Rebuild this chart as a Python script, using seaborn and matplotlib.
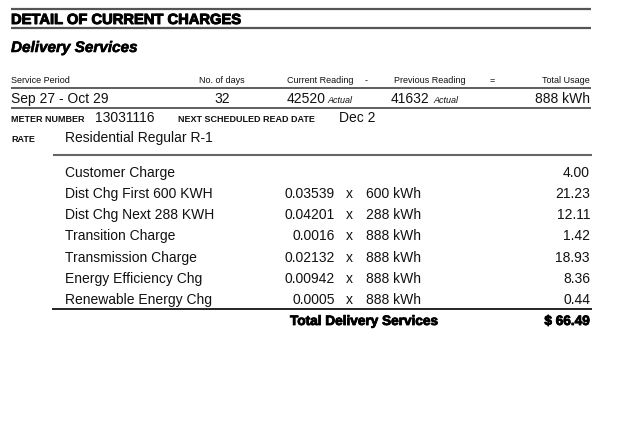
import seaborn as sns
import matplotlib.pyplot as plt
import matplotlib.patheffects as pe

# header of the bill
title = 'DETAIL OF CURRENT CHARGES'
section = 'Delivery Services'
period_cols = ['Service Period', 'No. of days', 'Current Reading', '-',
               'Previous Reading', '=', 'Total Usage']
service_period = 'Sep 27 - Oct 29'
n_days = 32
current_reading = 42520
previous_reading = 41632
total_usage = 888
meter_number = '13031116'
next_read_date = 'Dec 2'
rate_name = 'Residential Regular R-1'

# charge lines
charge_labels = ['Customer Charge', 'Dist Chg First 600 KWH', 'Dist Chg Next 288 KWH',
                 'Transition Charge', 'Transmission Charge', 'Energy Efficiency Chg',
                 'Renewable Energy Chg']
charge_rates = [None, 0.03539, 0.04201, 0.0016, 0.02132, 0.00942, 0.0005]
charge_kwh = [None, 600, 288, 888, 888, 888, 888]
charge_amounts = [4.00, 21.23, 12.11, 1.42, 18.93, 8.36, 0.44]
total_label = 'Total Delivery Services'
total_amount = 66.49

sns.set_theme(style='white')
plt.rcParams['font.family'] = ['Liberation Sans', 'DejaVu Sans']

fig = plt.figure(figsize=(6.17, 4.21), dpi=100)
ax = fig.add_axes([0, 0, 1, 1])
ax.set_xlim(0, 617)
ax.set_ylim(421, 0)
ax.axis('off')

INK = '#111111'
RIGHT = 590


def put(x, y, s, size=10, ha='left', heavy=0, **kw):
    kw.setdefault('color', INK)
    if heavy:
        # thicken bold text a bit, the original uses a black weight
        kw['fontweight'] = 'bold'
        kw['path_effects'] = [pe.withStroke(linewidth=heavy, foreground=kw['color'])]
    return ax.text(x, y, s, fontsize=size, ha=ha, va='baseline', **kw)


# title bar
ax.hlines([8.5, 28], 11, 591, color='#555555', lw=1.6)
put(11, 24, title, size=10.6, heavy=0.7, color='black')
put(11, 52, section, size=11, heavy=0.4, fontstyle='italic', color='black')

# service period table
col_x = [11, 222, 287, 366, 394, 492, RIGHT]
col_ha = ['left', 'center', 'left', 'center', 'left', 'center', 'right']
for name, x, ha in zip(period_cols, col_x, col_ha):
    put(x, 83, name, size=6.5, ha=ha)
ax.hlines(87.5, 11, 591, color='#333333', lw=1.1)
put(11, 103, service_period)
put(222, 103, str(n_days), ha='center')
put(287, 103, str(current_reading))
put(327, 103, 'Actual', size=6.5, fontstyle='italic')
put(391, 103, str(previous_reading))
put(433, 103, 'Actual', size=6.5, fontstyle='italic')
put(RIGHT, 103, f'{total_usage} kWh', ha='right')
ax.hlines(107.5, 11, 591, color='#333333', lw=1.1)

put(11, 122, 'METER NUMBER', size=6.5, fontweight='bold')
put(95, 122, meter_number)
put(178, 122, 'NEXT SCHEDULED READ DATE', size=6.5, fontweight='bold')
put(339, 122, next_read_date)
put(11, 142, 'RATE', size=6.5, fontweight='bold')
put(65, 142, rate_name)

# charges
ax.hlines(155, 53, 592, color='#666666', lw=1.5)
for i, (lab, rate, kwh, amt) in enumerate(zip(charge_labels, charge_rates,
                                               charge_kwh, charge_amounts)):
    y = 177 + i * 21.15
    put(65, y, lab)
    if rate is not None:
        put(335, y, f'{rate:g}', ha='right')
        put(349, y, 'x', ha='center')
        put(366, y, f'{kwh} kWh')
    put(RIGHT, y, f'{amt:.2f}', ha='right')
ax.hlines(309, 52, 592, color='black', lw=1.2)
put(290, 325, total_label, size=9.8, heavy=0.6, color='black')
put(RIGHT, 325, f'$ {total_amount:.2f}', size=9.8, ha='right', heavy=0.6,
    color='black')

fig.savefig('out.png', dpi=100, facecolor='white')
